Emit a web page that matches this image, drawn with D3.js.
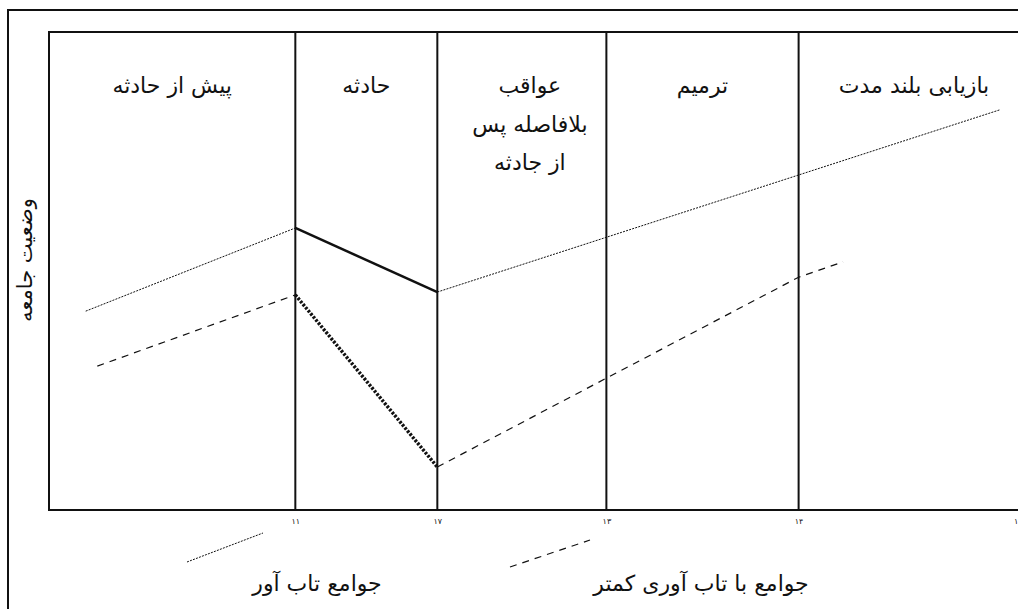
<!DOCTYPE html>
<html>
<head>
<meta charset="utf-8">
<script src="https://cdn.jsdelivr.net/npm/d3@7"></script>
<style>
  body { margin: 0; background: #fff; }
  svg { display: block; }
  text { font-family: "DejaVu Sans", sans-serif; fill: #111; }
</style>
</head>
<body>
<div id="chart"></div>
<script>
// Phases across the top (each label may wrap onto several lines)
var phaseLabels = [
    ["پیش از حادثه"],
    ["حادثه"],
    ["عواقب", "بلافاصله پس", "از جادثه"],
    ["ترمیم"],
    ["بازیابی بلند مدت"]
];
// phase boundaries on the time axis (0..100), last one runs off the page
var phaseEdges = [0, 25.5, 40.2, 57.7, 77.6, 101.5];

// axis ticks under the dividers
var tickValues = [25.5, 40.2, 57.7, 77.6, 100.3];
var tickLabels = ["۱۱", "۱۷", "۱۳", "۱۴", "۱۵"];

// community condition, 0..100, as [time, value]
var resilientBefore = [[3.8, 41.6], [25.5, 59.0]];
var resilientShock  = [[25.5, 59.0], [40.2, 45.6]];
var resilientAfter  = [[40.2, 45.6], [98.4, 83.7]];

var weakBefore = [[5.0, 30.1], [25.5, 45.0]];
var weakShock  = [[25.5, 45.0], [40.2, 9.0]];
var weakAfter  = [[40.2, 9.0], [77.6, 48.7], [82.2, 51.9]];

var legendLabels = ["جوامع تاب آور", "جوامع با تاب آوری کمتر"];
var yLabel = "وضعیت جامعه";

var width = 1018, height = 609;
var margin = {left: 49, top: 32, bottom: 99};

var svg = d3.select("#chart").append("svg")
    .attr("width", width)
    .attr("height", height);

var x = d3.scaleLinear().domain([0, 100]).range([margin.left, 1015]);
var y = d3.scaleLinear().domain([0, 100]).range([height - margin.bottom, margin.top]);
// y(0) = 510, y(100) = 32

// outer page frame (runs off the right and bottom edges)
svg.append("rect")
    .attr("x", 8).attr("y", 10)
    .attr("width", 1030).attr("height", 620)
    .attr("fill", "none").attr("stroke", "#111").attr("stroke-width", 2);

// plot frame
svg.append("rect")
    .attr("x", x(0)).attr("y", y(100))
    .attr("width", x(phaseEdges[phaseEdges.length - 1]) - x(0))
    .attr("height", y(0) - y(100))
    .attr("fill", "none").attr("stroke", "#111").attr("stroke-width", 2);

// phase dividers
svg.selectAll(".divider")
    .data(phaseEdges.slice(1, -1))
    .enter().append("line")
    .attr("class", "divider")
    .attr("x1", d => x(d)).attr("x2", d => x(d))
    .attr("y1", y(100)).attr("y2", y(0))
    .attr("stroke", "#111").attr("stroke-width", 2);

// phase titles
var rowBaselines = [93, 132, 170];
phaseLabels.forEach(function(lines, i) {
    var cx = (x(phaseEdges[i]) + x(phaseEdges[i + 1])) / 2;
    if (i == 2) cx += 8; // this one sits a bit right of centre
    lines.forEach(function(line, j) {
        svg.append("text")
            .attr("x", cx).attr("y", rowBaselines[j])
            .attr("text-anchor", "middle")
            .attr("font-size", 22)
            .text(line);
    });
});

// tick labels only, frame already draws the baseline
var xAxis = d3.axisBottom(x)
    .tickValues(tickValues)
    .tickSize(0)
    .tickPadding(8)
    .tickFormat((d, i) => tickLabels[i]);
var gx = svg.append("g")
    .attr("transform", "translate(0," + y(0) + ")")
    .call(xAxis);
gx.select(".domain").remove();
gx.selectAll("text")
    .attr("font-family", "DejaVu Sans, sans-serif")
    .attr("font-size", 8)
    .attr("fill", "#555");

// y label
svg.append("text")
    .attr("transform", "translate(32,260) rotate(-90)")
    .attr("text-anchor", "middle")
    .attr("font-size", 21)
    .text(yLabel);

var line = d3.line().x(d => x(d[0])).y(d => y(d[1]));

var thinDotted = {width: 1, dash: "2,1.2"};
var dashed = {width: 1.2, dash: "7,6"};
var thickSolid = {width: 2.5, dash: null};
var heavyDotted = {width: 3.5, dash: "2.5,1.5"};

function drawSeries(data, style) {
    svg.append("path")
        .datum(data)
        .attr("d", line)
        .attr("fill", "none")
        .attr("stroke", "#111")
        .attr("stroke-width", style.width)
        .attr("stroke-dasharray", style.dash);
}

drawSeries(resilientBefore, thinDotted);
drawSeries(resilientShock, thickSolid);
drawSeries(resilientAfter, thinDotted);
drawSeries(weakBefore, dashed);
drawSeries(weakShock, heavyDotted);
drawSeries(weakAfter, dashed);

// legend below the axis
var legend = [
    {label: legendLabels[0], style: thinDotted, x1: 187, y1: 562, x2: 263, y2: 533, tx: 317},
    {label: legendLabels[1], style: dashed, x1: 510, y1: 567, x2: 590, y2: 540, tx: 701}
];
legend.forEach(function(item) {
    svg.append("line")
        .attr("x1", item.x1).attr("y1", item.y1)
        .attr("x2", item.x2).attr("y2", item.y2)
        .attr("stroke", "#111")
        .attr("stroke-width", item.style.width)
        .attr("stroke-dasharray", item.style.dash);
    svg.append("text")
        .attr("x", item.tx).attr("y", 591)
        .attr("text-anchor", "middle")
        .attr("font-size", 22)
        .text(item.label);
});
</script>
</body>
</html>
